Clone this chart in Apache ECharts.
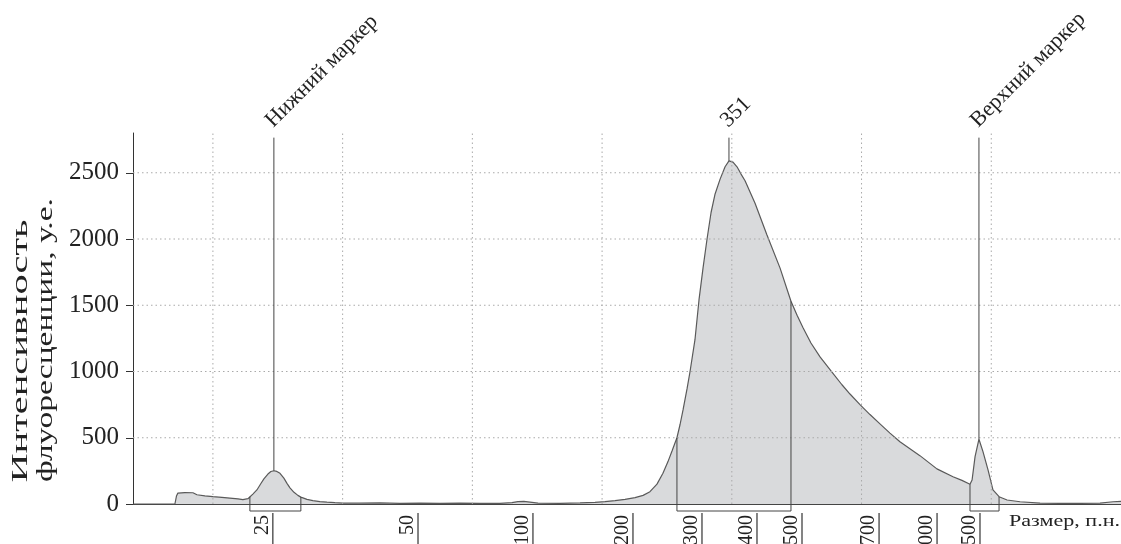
<!DOCTYPE html>
<html>
<head>
<meta charset="UTF-8">
<title>Электрофореграмма</title>
<script src="https://cdn.jsdelivr.net/npm/echarts@6/dist/echarts.min.js"></script>
<style>
  html, body { margin: 0; padding: 0; background: #fff; }
  #main { width: 1121px; height: 544px; }
</style>
</head>
<body>
<div id="main"></div>
<script>
// время выхода (усл. ед.) и интенсивность флуоресценции
var migX = [3.84, 5.14, 6.68, 7.07, 7.19, 7.30, 7.84, 8.46, 8.77, 9.38, 10.0, 10.69, 11.31, 11.93, 12.31, 12.70,
  12.85, 13.08, 13.39, 13.70, 13.93, 14.24, 14.47, 14.70, 14.93, 15.17, 15.47, 15.71, 15.94, 16.25, 16.55, 16.78,
  17.25, 17.71, 18.25, 18.79, 19.40, 20.02, 21.33, 22.87, 24.42, 25.96, 27.50, 29.04, 30.58, 32.12, 33.05, 33.51,
  33.97, 34.44, 35.06, 36.75, 38.30, 39.45, 40.22, 41.00, 41.77, 42.54, 43.16, 43.69, 44.23, 44.69, 45.08, 45.39,
  45.77, 46.01, 46.24, 46.55, 46.78, 47.16, 47.47, 47.78, 48.09, 48.40, 48.71, 49.09, 49.48, 49.78, 50.09, 50.40,
  50.71, 51.02, 51.79, 52.71, 53.72, 54.56, 55.03, 55.49, 56.10, 56.80, 57.72, 58.49, 59.11, 59.88, 60.65, 61.42,
  62.19, 62.96, 64.50, 65.81, 67.05, 67.74, 68.36, 68.52, 68.75, 69.05, 69.36, 69.75, 70.13, 70.60, 71.22, 72.22,
  73.76, 75.30, 76.84, 78.38, 79.39, 80.0];
var intensity = [0, 0, 0, 0, 60, 82, 86, 85, 70, 62, 55, 50, 45, 38, 33, 40,
  55, 75, 106, 155, 190, 226, 245, 251, 246, 232, 195, 156, 122, 88, 65, 52,
  35, 25, 18, 14, 10, 7, 6, 8, 5, 7, 5, 6, 4, 5, 10, 18,
  20, 14, 6, 5, 8, 12, 18, 25, 35, 48, 65, 93, 150, 232, 320, 400,
  500, 600, 710, 870, 1000, 1240, 1540, 1780, 2000, 2200, 2340, 2450, 2545, 2590, 2580, 2545,
  2490, 2440, 2270, 2030, 1780, 1530, 1425, 1330, 1215, 1110, 995, 900, 830, 750, 675, 605,
  535, 470, 365, 265, 206, 178, 149, 181, 357, 489, 395, 257, 106, 55, 30, 17,
  6, 5, 4, 6, 17, 20];

var gridX = [10, 20, 30, 40, 50, 60, 70];
var yTicks = [0, 500, 1000, 1500, 2000, 2500];
var gridY = [500, 1000, 1500, 2000, 2500];

// шкала размеров (п.н.)
var ladderX = [14.62, 25.81, 34.67, 42.38, 47.70, 51.94, 55.41, 61.35, 65.82, 69.13];
var ladderBp = ['25', '50', '100', '200', '300', '400', '500', '700', '1000', '1500'];

// пики
var peakX = [14.70, 49.78, 69.05];
var peakY = [251, 2590, 489];
var peakName = ['Нижний маркер', '351', 'Верхний маркер'];
var peakTop = 2765;

// области интегрирования
var regionFrom = [12.85, 45.77, 68.36];
var regionTo = [16.78, 54.56, 70.60];
var regionFromY = [55, 500, 149];
var regionToY = [52, 1530, 55];

var xMin = 3.84, xMax = 80, yMax = 2800;
var serif = '"Liberation Serif", "Times New Roman", serif';

var chart = echarts.init(document.getElementById('main'));

var ctx = document.createElement('canvas').getContext('2d');
function stretch(text, font, len) {
  ctx.font = font;
  return len / ctx.measureText(text).width;
}

var curve = [];
for (var i = 0; i < migX.length; i++) curve.push([migX[i], intensity[i]]);

var peaks = [];
for (var i = 0; i < peakX.length; i++) peaks.push([peakX[i], peakY[i], i]);

var regions = [];
for (var i = 0; i < regionFrom.length; i++) regions.push([regionFrom[i], regionTo[i], regionFromY[i], regionToY[i]]);

var ladder = [];
for (var i = 0; i < ladderX.length; i++) ladder.push([ladderX[i], 0, i]);

var dotted = { stroke: '#aaa', lineWidth: 1, lineDash: [1.5, 3] };

var yFont1 = '24px ' + serif;
var xFont = '17px ' + serif;

var option = {
  animation: false,
  grid: { left: 133, right: 0, top: 133, bottom: 40 },
  xAxis: {
    type: 'value', min: xMin, max: xMax,
    axisLine: { show: true, lineStyle: { color: '#444', width: 1 } },
    axisTick: { show: false }, axisLabel: { show: false }, splitLine: { show: false }
  },
  yAxis: {
    type: 'value', min: 0, max: yMax,
    axisLine: { show: true, lineStyle: { color: '#333', width: 1 } },
    axisTick: { show: true, length: 7, customValues: yTicks, lineStyle: { color: '#333' } },
    axisLabel: { customValues: yTicks, fontFamily: serif, fontSize: 25, color: '#222', margin: 14,
      formatter: function (v) { return String(v); } },
    splitLine: { show: false }
  },
  graphic: [
    { type: 'text', x: 21, y: 351, rotation: Math.PI / 2,
      scaleX: stretch('Интенсивность', yFont1, 263),
      style: { text: 'Интенсивность', font: yFont1, fill: '#222', align: 'center', verticalAlign: 'middle' } },
    { type: 'text', x: 46, y: 340, rotation: Math.PI / 2,
      scaleX: stretch('флуоресценции, у.е.', yFont1, 284),
      style: { text: 'флуоресценции, у.е.', font: yFont1, fill: '#222', align: 'center', verticalAlign: 'middle' } },
    { type: 'text', x: 1120, y: 522,
      scaleX: stretch('Размер, п.н.', xFont, 111),
      style: { text: 'Размер, п.н.', font: xFont, fill: '#222', align: 'right', verticalAlign: 'middle' } }
  ],
  series: [
    {
      type: 'line', data: curve, showSymbol: false, z: 2,
      lineStyle: { color: '#5a5a5a', width: 1.2 },
      areaStyle: { color: '#d9dadc', opacity: 1 }
    },
    {
      // сетка поверх заливки
      type: 'custom', z: 3, silent: true,
      data: gridX.map(function (v) { return [v, 0]; }),
      renderItem: function (params, api) {
        var a = api.coord([api.value(0), 0]);
        var b = api.coord([api.value(0), yMax]);
        return { type: 'line', shape: { x1: a[0], y1: a[1], x2: b[0], y2: b[1] }, style: dotted };
      }
    },
    {
      type: 'custom', z: 3, silent: true,
      data: gridY.map(function (v) { return [xMin, v]; }),
      renderItem: function (params, api) {
        var a = api.coord([xMin, api.value(1)]);
        var b = api.coord([xMax, api.value(1)]);
        return { type: 'line', shape: { x1: a[0], y1: a[1], x2: b[0], y2: b[1] }, style: dotted };
      }
    },
    {
      // области
      type: 'custom', z: 4, silent: true, clip: false,
      data: regions,
      renderItem: function (params, api) {
        var a = api.coord([api.value(0), api.value(2)]);
        var b = api.coord([api.value(1), api.value(3)]);
        var base = api.coord([api.value(0), 0])[1] + 7;
        return { type: 'polyline',
          shape: { points: [[a[0], a[1]], [a[0], base], [b[0], base], [b[0], b[1]]] },
          style: { stroke: '#444', lineWidth: 1, fill: null } };
      }
    },
    {
      // маркеры и подписи пиков
      type: 'custom', z: 4, silent: true, clip: false,
      data: peaks,
      renderItem: function (params, api) {
        var a = api.coord([api.value(0), api.value(1)]);
        var b = api.coord([api.value(0), peakTop]);
        return { type: 'group', children: [
          { type: 'line', shape: { x1: a[0], y1: a[1], x2: b[0], y2: b[1] }, style: { stroke: '#444', lineWidth: 1 } },
          { type: 'text', x: b[0] + 3, y: b[1] - 6, rotation: Math.PI / 4,
            style: { text: peakName[api.value(2)], font: '22px ' + serif, fill: '#222', align: 'left', verticalAlign: 'bottom' } }
        ] };
      }
    },
    {
      // шкала размеров
      type: 'custom', z: 4, silent: true, clip: false,
      data: ladder,
      renderItem: function (params, api) {
        var p = api.coord([api.value(0), 0]);
        return { type: 'group', children: [
          { type: 'line', shape: { x1: p[0], y1: p[1] + 9, x2: p[0], y2: p[1] + 42 }, style: { stroke: '#333', lineWidth: 1.2 } },
          { type: 'text', x: p[0] - 10, y: p[1] + 11, rotation: Math.PI / 2,
            style: { text: ladderBp[api.value(2)], font: '20px ' + serif, fill: '#222', align: 'right', verticalAlign: 'middle' } }
        ] };
      }
    }
  ]
};

chart.setOption(option);
</script>
</body>
</html>
